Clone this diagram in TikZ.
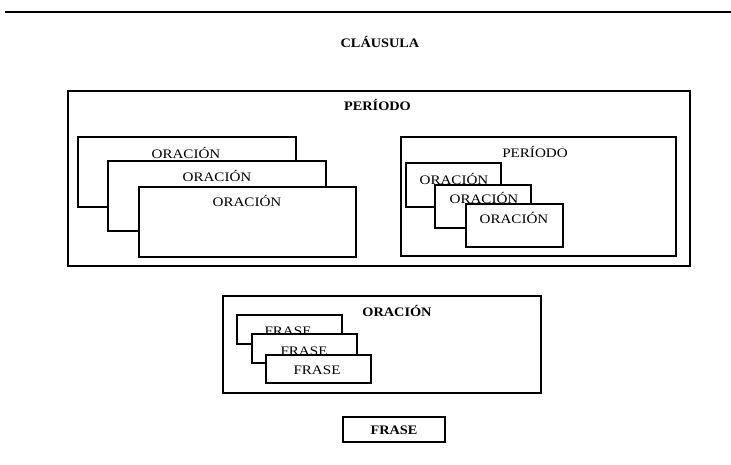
\documentclass[tikz,border=0pt]{standalone}
\usepackage{fontspec}
\setmainfont{Liberation Serif}[FakeStretch=1.16,BoldFeatures={FakeStretch=1.1}]
\begin{document}
\begin{tikzpicture}[x=1pt,y=-1pt,
  box/.style={draw,line width=1.5pt,fill=white,inner sep=0pt,outer sep=0pt},
  lab/.style={inner sep=0pt,font=\fontsize{13}{15}\selectfont},
  blab/.style={inner sep=0pt,font=\fontsize{13}{15}\selectfont\bfseries}]
\useasboundingbox (0,0) rectangle (731,464);
\coordinate (r1) at (5,12);
\coordinate (r2) at (731,12);
\draw[line width=1.5pt] (r1) -- (r2);
\node[blab] (t) at (380,42) {CLÁUSULA};
% outer periodo
\node[box,minimum width=622pt,minimum height=175pt] (P) at (379,178.5) {};
\node[blab] (Pl) at (377.5,105) {PERÍODO};
% left stack
\node[box,minimum width=218pt,minimum height=70pt] (L1) at (187,172) {};
\node[lab] (L1l) at (186,153) {ORACIÓN};
\node[box,minimum width=218pt,minimum height=70pt] (L2) at (217,196) {};
\node[lab] (L2l) at (217,176) {ORACIÓN};
\node[box,minimum width=217pt,minimum height=70pt] (L3) at (247.5,222) {};
\node[lab] (L3l) at (247,201) {ORACIÓN};
% right periodo
\node[box,minimum width=275pt,minimum height=119pt] (RP) at (538.5,196.5) {};
\node[lab] (RPl) at (535,152) {PERÍODO};
\node[box,minimum width=95pt,minimum height=44pt] (Ra) at (453.5,185) {};
\node[lab] (Ral) at (454,179) {ORACIÓN};
\node[box,minimum width=96pt,minimum height=43pt] (Rb) at (483,206.5) {};
\node[lab] (Rbl) at (484,198) {ORACIÓN};
\node[box,minimum width=97pt,minimum height=43pt] (Rc) at (514.5,225.5) {};
\node[lab] (Rcl) at (514,218) {ORACIÓN};
% oracion
\node[box,minimum width=318pt,minimum height=97pt] (O) at (382,344.5) {};
\node[blab] (Ol) at (397,311) {ORACIÓN};
\node[box,minimum width=105pt,minimum height=29pt] (Fa) at (289.5,329.5) {};
\node[lab] (Fal) at (288,331) {FRASE};
\node[box,minimum width=105pt,minimum height=29pt] (Fb) at (304.5,348.5) {};
\node[lab] (Fbl) at (304,351) {FRASE};
\node[box,minimum width=105pt,minimum height=28pt] (Fc) at (318.5,369) {};
\node[lab] (Fcl) at (317,370) {FRASE};
% frase
\node[box,minimum width=102pt,minimum height=25pt] (F) at (394,429.5) {};
\node[blab] (Fl) at (394,430) {FRASE};
\end{tikzpicture}
\end{document}
